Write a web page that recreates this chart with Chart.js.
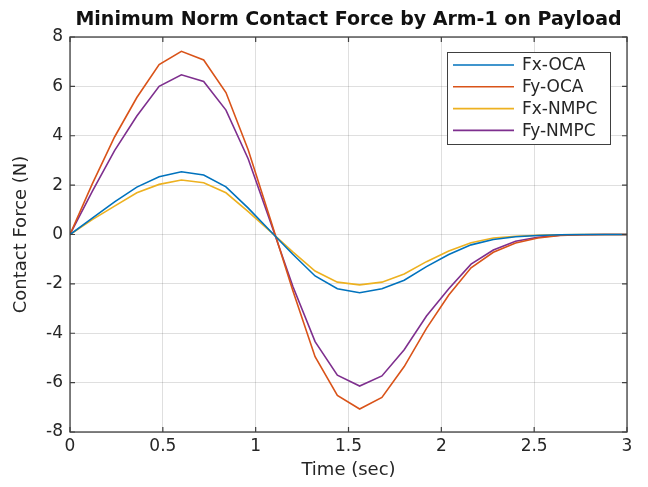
<!DOCTYPE html>
<html>
<head>
<meta charset="utf-8">
<script src="https://cdn.jsdelivr.net/npm/chart.js@4.4.0/dist/chart.umd.min.js"></script>
<style>
html, body { margin: 0; padding: 0; background: #fff; }
</style>
</head>
<body>
<canvas id="chart" width="648" height="487"></canvas>
<script>
const times = [0, 0.12, 0.24, 0.36, 0.48, 0.6, 0.72, 0.84, 0.96, 1.08, 1.2, 1.32, 1.44,
  1.56, 1.68, 1.8, 1.92, 2.04, 2.16, 2.28, 2.4, 2.52, 2.64, 2.76, 2.88, 3.0];

const fxOCA = [0, 0.66, 1.32, 1.92, 2.34, 2.54, 2.41, 1.93, 1.07, 0.13, -0.8, -1.68, -2.2,
  -2.36, -2.2, -1.85, -1.3, -0.81, -0.42, -0.2, -0.09, -0.04, -0.01, 0, 0, 0];
const fyOCA = [0, 2.05, 3.95, 5.55, 6.88, 7.42, 7.07, 5.75, 3.42, 0.6, -2.27, -4.95, -6.52,
  -7.07, -6.6, -5.35, -3.8, -2.45, -1.35, -0.72, -0.34, -0.14, -0.04, -0.01, 0, 0];
const fxNMPC = [0, 0.6, 1.15, 1.69, 2.03, 2.21, 2.1, 1.69, 0.93, 0.12, -0.7, -1.48, -1.93,
  -2.04, -1.93, -1.6, -1.1, -0.67, -0.33, -0.14, -0.07, -0.03, -0.01, 0, 0, 0];
const fyNMPC = [0, 1.75, 3.4, 4.8, 6.0, 6.47, 6.2, 5.04, 3.06, 0.5, -2.1, -4.34, -5.7,
  -6.14, -5.73, -4.67, -3.3, -2.2, -1.2, -0.63, -0.27, -0.11, -0.03, -0.01, 0, 0];

const seriesNames = ['Fx-OCA', 'Fy-OCA', 'Fx-NMPC', 'Fy-NMPC'];
const seriesColors = ['#0072BD', '#D95319', '#EDB120', '#7E2F8E'];

const titleText = 'Minimum Norm Contact Force by Arm-1 on Payload';
const xLabel = 'Time (sec)';
const yLabel = 'Contact Force (N)';

const FONT = '"DejaVu Sans", Verdana, sans-serif';
const TEXT = '#262626';

function toPoints(vals) {
  return vals.map((v, i) => ({ x: times[i], y: v }));
}

const datasets = [fxOCA, fyOCA, fxNMPC, fyNMPC].map((vals, i) => ({
  label: seriesNames[i],
  data: toPoints(vals),
  borderColor: seriesColors[i],
  backgroundColor: seriesColors[i],
  borderWidth: 1.6,
  pointRadius: 0,
  tension: 0,
  fill: false
}));

// box, inward ticks, title and legend like the matlab figure
const matlabAxes = {
  id: 'matlabAxes',
  afterDraw(chart) {
    const ctx = chart.ctx;
    const a = chart.chartArea;
    const xs = chart.scales.x;
    const ys = chart.scales.y;
    ctx.save();

    ctx.strokeStyle = '#404040';
    ctx.lineWidth = 1.3;
    ctx.strokeRect(a.left, a.top, a.right - a.left, a.bottom - a.top);

    ctx.lineWidth = 1.2;
    ctx.beginPath();
    xs.ticks.forEach(t => {
      const px = xs.getPixelForValue(t.value);
      ctx.moveTo(px, a.bottom); ctx.lineTo(px, a.bottom - 5);
      ctx.moveTo(px, a.top); ctx.lineTo(px, a.top + 5);
    });
    ys.ticks.forEach(t => {
      const py = ys.getPixelForValue(t.value);
      ctx.moveTo(a.left, py); ctx.lineTo(a.left + 5, py);
      ctx.moveTo(a.right, py); ctx.lineTo(a.right - 5, py);
    });
    ctx.stroke();

    // title
    ctx.fillStyle = '#111';
    ctx.font = 'bold 19px ' + FONT;
    ctx.textAlign = 'center';
    ctx.textBaseline = 'middle';
    ctx.fillText(titleText, (a.left + a.right) / 2, 20);

    // legend
    const lx = 447, ly = 52, lw = 163, lh = 92;
    ctx.fillStyle = '#fff';
    ctx.fillRect(lx, ly, lw, lh);
    ctx.strokeStyle = '#404040';
    ctx.lineWidth = 1;
    ctx.strokeRect(lx + 0.5, ly + 0.5, lw, lh);
    ctx.font = '17px ' + FONT;
    ctx.textAlign = 'left';
    chart.data.datasets.forEach((ds, i) => {
      const ry = 65 + i * 21.8;
      ctx.strokeStyle = ds.borderColor;
      ctx.lineWidth = 1.6;
      ctx.beginPath();
      ctx.moveTo(453, ry); ctx.lineTo(514, ry);
      ctx.stroke();
      ctx.fillStyle = TEXT;
      ctx.fillText(ds.label, 522, ry + 1);
    });

    ctx.restore();
  }
};

new Chart(document.getElementById('chart'), {
  type: 'line',
  data: { datasets },
  options: {
    responsive: false,
    animation: false,
    layout: { padding: { left: 0, right: 21, top: 37, bottom: 0 } },
    plugins: {
      legend: { display: false },
      title: { display: false },
      tooltip: { enabled: false }
    },
    scales: {
      x: {
        type: 'linear',
        min: 0,
        max: 3,
        ticks: {
          stepSize: 0.5, color: TEXT, font: { family: FONT, size: 17 }, padding: 4,
          callback: v => String(Math.round(v * 10) / 10)
        },
        grid: { color: 'rgba(38,38,38,0.15)', drawTicks: false },
        border: { display: false },
        title: { display: true, text: xLabel, color: TEXT, font: { family: FONT, size: 18 }, padding: { top: 0, bottom: 6 } },
        afterFit(s) { s.height = 55; }
      },
      y: {
        min: -8,
        max: 8,
        ticks: { stepSize: 2, color: TEXT, font: { family: FONT, size: 17 }, padding: 7 },
        grid: { color: 'rgba(38,38,38,0.15)', drawTicks: false },
        border: { display: false },
        title: { display: true, text: yLabel, color: TEXT, font: { family: FONT, size: 18 }, padding: { top: 11, bottom: 0 } },
        afterFit(s) { s.width = 70; }
      }
    }
  },
  plugins: [matlabAxes]
});
</script>
</body>
</html>
